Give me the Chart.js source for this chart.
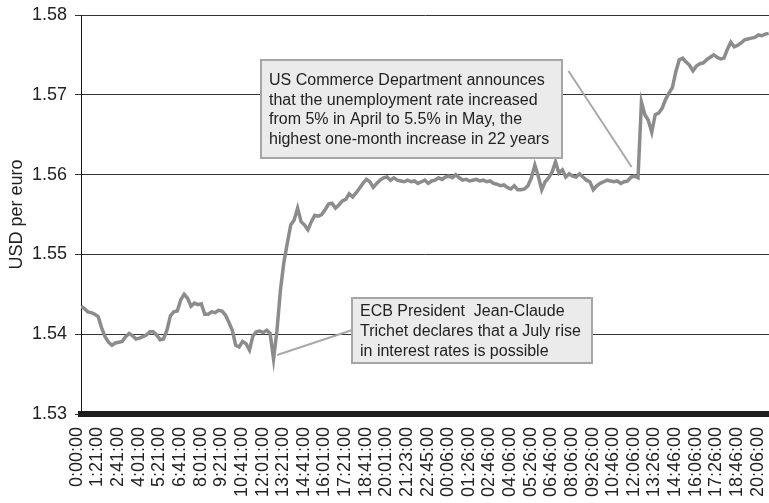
<!DOCTYPE html>
<html>
<head>
<meta charset="utf-8">
<title>USD per euro</title>
<script src="https://cdn.jsdelivr.net/npm/chart.js@4.4.1/dist/chart.umd.min.js"></script>
<style>
  html, body { margin: 0; padding: 0; background: #ffffff; }
  #wrap { width: 769px; height: 503px; }
</style>
</head>
<body>
<div id="wrap"><canvas id="fxChart" width="769" height="503"></canvas></div>
<script>
// ====================================
// DATA
// ====================================
const tickLabels = [
  "0:00:00", "1:21:00", "2:41:00", "4:01:00", "5:21:00", "6:41:00", "8:01:00",
  "9:21:00", "10:41:00", "12:01:00", "13:21:00", "14:41:00", "16:01:00",
  "17:21:00", "18:41:00", "20:01:00", "21:23:00", "22:45:00", "00:06:00",
  "01:26:00", "02:46:00", "04:06:00", "05:26:00", "06:46:00", "08:06:00",
  "09:26:00", "10:46:00", "12:06:00", "13:26:00", "14:46:00", "16:06:00",
  "17:26:00", "18:46:00", "20:06:00",
];

// readings taken every 1/6 of a label interval, first one just after 0:00:00
const firstSample = 0.2;
const sampleStep = 1 / 6;

const usdPerEuro = [
  1.5435, 1.5432, 1.5428, 1.5427, 1.5425, 1.5422, 1.5408, 1.5397, 1.5390, 1.5386,
  1.5389, 1.5390, 1.5391, 1.5397, 1.5401, 1.5398, 1.5394, 1.5395, 1.5397, 1.5399,
  1.5403, 1.5403, 1.5399, 1.5393, 1.5394, 1.5405, 1.5423, 1.5428, 1.5429, 1.5443,
  1.5450, 1.5445, 1.5435, 1.5439, 1.5437, 1.5438, 1.5425, 1.5425, 1.5428, 1.5427,
  1.5430, 1.5429, 1.5424, 1.5415, 1.5405, 1.5386, 1.5384, 1.5391, 1.5388, 1.5380,
  1.5398, 1.5403, 1.5404, 1.5402, 1.5405, 1.5401, 1.5369, 1.5405, 1.5455, 1.5490,
  1.5514, 1.5537, 1.5543, 1.5558, 1.5541, 1.5537, 1.5531, 1.5541, 1.5549, 1.5548,
  1.5550, 1.5556, 1.5563, 1.5564, 1.5558, 1.5562, 1.5567, 1.5569, 1.5576, 1.5572,
  1.5577, 1.5583, 1.5589, 1.5594, 1.5591, 1.5584, 1.5589, 1.5593, 1.5596, 1.5597,
  1.5593, 1.5596, 1.5593, 1.5592, 1.5591, 1.5593, 1.5591, 1.5592, 1.5589, 1.5591,
  1.5593, 1.5589, 1.5592, 1.5593, 1.5596, 1.5594, 1.5597, 1.5598, 1.5596, 1.5600,
  1.5596, 1.5593, 1.5594, 1.5592, 1.5593, 1.5594, 1.5592, 1.5593, 1.5591, 1.5592,
  1.5589, 1.5588, 1.5586, 1.5587, 1.5584, 1.5582, 1.5586, 1.5581, 1.5581, 1.5582,
  1.5586, 1.5596, 1.5612, 1.5598, 1.5581, 1.5591, 1.5596, 1.5603, 1.5616, 1.5602,
  1.5606, 1.5597, 1.5601, 1.5598, 1.5597, 1.5601, 1.5597, 1.5593, 1.5591, 1.5581,
  1.5586, 1.5589, 1.5591, 1.5593, 1.5592, 1.5591, 1.5592, 1.5589, 1.5591, 1.5592,
  1.5597, 1.5598, 1.5596, 1.5691, 1.5675, 1.5668, 1.5653, 1.5675, 1.5677, 1.5683,
  1.5694, 1.5702, 1.5709, 1.5729, 1.5744, 1.5746, 1.5741, 1.5737, 1.5730, 1.5736,
  1.5739, 1.5740, 1.5744, 1.5747, 1.5750, 1.5747, 1.5745, 1.5746, 1.5757, 1.5766,
  1.5760, 1.5762, 1.5765, 1.5769, 1.5770, 1.5771, 1.5772, 1.5775, 1.5774, 1.5776,
  1.5777,
];

const yMin = 1.53;
const yMax = 1.58;
const yStep = 0.01;

// ====================================
// CALLOUTS (anchored in axis units)
// ====================================
const callouts = [
  {
    lines: [
      "US Commerce Department announces",
      "that the unemployment rate increased",
      "from 5% in April to 5.5% in May, the",
      "highest one-month increase in 22 years",
    ],
    box: { x1: 8.93, x2: 23.54, y1: 1.57436, y2: 1.56208 },
    pointer: { x1: 23.83, y1: 1.57298, x2: 26.89, y2: 1.56095 },
  },
  {
    lines: [
      "ECB President  Jean-Claude",
      "Trichet declares that a July rise",
      "in interest rates is possible",
    ],
    box: { x1: 13.35, x2: 24.95, y1: 1.54454, y2: 1.53639 },
    pointer: { x1: 9.71, y1: 1.5374, x2: 13.35, y2: 1.54053 },
  },
];

const calloutPlugin = {
  id: "callouts",
  afterDatasetsDraw(chart) {
    const ctx = chart.ctx;
    const xs = chart.scales.x;
    const ys = chart.scales.y;

    callouts.forEach(function (c) {
      ctx.save();

      // pointer
      ctx.strokeStyle = "#a8a8a8";
      ctx.lineWidth = 2;
      ctx.beginPath();
      ctx.moveTo(xs.getPixelForValue(c.pointer.x1), ys.getPixelForValue(c.pointer.y1));
      ctx.lineTo(xs.getPixelForValue(c.pointer.x2), ys.getPixelForValue(c.pointer.y2));
      ctx.stroke();

      // box
      const left = Math.round(xs.getPixelForValue(c.box.x1));
      const right = Math.round(xs.getPixelForValue(c.box.x2));
      const top = Math.round(ys.getPixelForValue(c.box.y1));
      const bottom = Math.round(ys.getPixelForValue(c.box.y2));
      ctx.fillStyle = "#ebebeb";
      ctx.fillRect(left, top, right - left, bottom - top);
      ctx.strokeStyle = "#a6a6a6";
      ctx.lineWidth = 2;
      ctx.strokeRect(left, top, right - left, bottom - top);

      // text
      const lineHeight = 19.6;
      const mid = (top + bottom) / 2;
      ctx.fillStyle = "#222222";
      ctx.font = '16px "Liberation Sans", Arial, sans-serif';
      ctx.textBaseline = "middle";
      ctx.textAlign = "left";
      c.lines.forEach(function (line, i) {
        const yPos = mid + (i - (c.lines.length - 1) / 2) * lineHeight + 1;
        ctx.fillText(line, left + 8, yPos);
      });

      ctx.restore();
    });
  },
};

// ====================================
// CHART
// ====================================
const points = usdPerEuro.map(function (v, i) {
  return { x: firstSample + i * sampleStep, y: v };
});

const axisFont = { family: '"Liberation Sans", Arial, sans-serif', size: 18 };

new Chart(document.getElementById("fxChart").getContext("2d"), {
  type: "line",
  data: {
    datasets: [
      {
        label: "USD per euro",
        data: points,
        borderColor: "#8c8c8c",
        borderWidth: 3.5,
        pointRadius: 0,
        tension: 0,
        fill: false,
      },
    ],
  },
  options: {
    responsive: false,
    animation: false,
    devicePixelRatio: 1,
    layout: { padding: { top: 15, right: 0, bottom: 0, left: 0 } },
    plugins: {
      legend: { display: false },
      tooltip: { enabled: false },
    },
    scales: {
      x: {
        type: "linear",
        min: firstSample,
        max: 33.55,
        grid: { color: "rgba(0,0,0,0)", drawTicks: false, drawOnChartArea: false },
        border: { color: "#1e1e1e", width: 6 },
        afterBuildTicks: function (scale) {
          scale.ticks = tickLabels.map(function (_, i) {
            return { value: i };
          });
        },
        afterFit: function (scale) {
          scale.height = 89;
          scale.paddingLeft = 0;
          scale.paddingRight = 0;
        },
        ticks: {
          autoSkip: false,
          minRotation: 90,
          maxRotation: 90,
          padding: 13,
          color: "#222222",
          font: axisFont,
          callback: function (value) {
            return tickLabels[value];
          },
        },
      },
      y: {
        min: yMin,
        max: yMax,
        afterFit: function (scale) {
          scale.width = 81;
          scale.paddingTop = 0;
          scale.paddingBottom = 0;
        },
        grid: { color: "#333333", lineWidth: 1, tickLength: 6 },
        border: { color: "#111111", width: 1 },
        ticks: {
          stepSize: yStep,
          padding: 8,
          color: "#222222",
          font: axisFont,
          callback: function (value) {
            return value.toFixed(2);
          },
        },
        title: {
          display: true,
          text: "USD per euro",
          color: "#222222",
          font: axisFont,
          padding: { top: 6, bottom: 0 },
        },
      },
    },
  },
  plugins: [calloutPlugin],
});
</script>
</body>
</html>
